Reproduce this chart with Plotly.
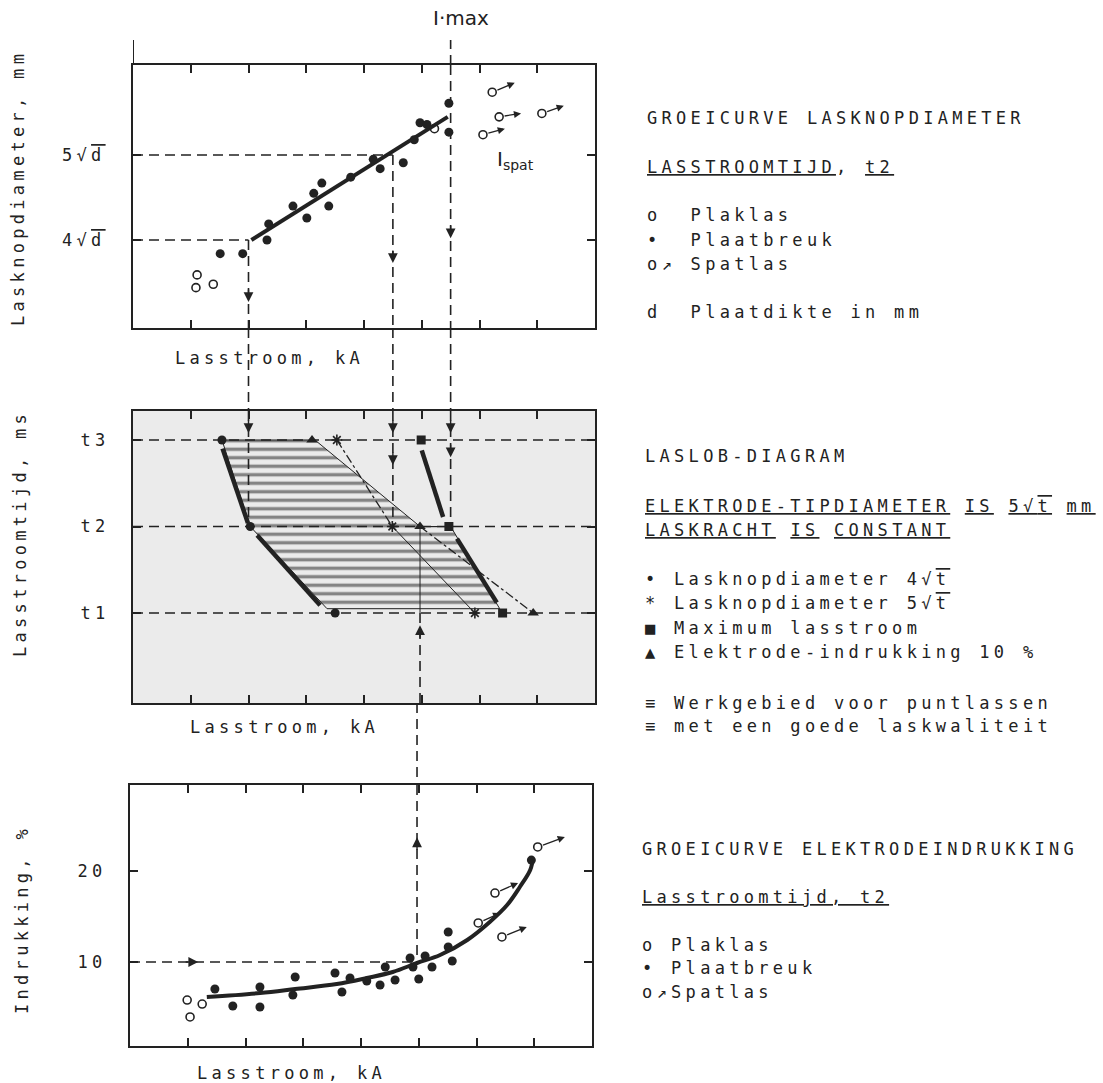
import plotly.graph_objects as go

W, H = 1103, 1083
INK = '#222222'
FONT = 'DejaVu Sans Mono'
FS = 17
LS = 4.3

# ---------------- data: top panel (Lasknopdiameter vs Lasstroom) ----------------
top_break_x = [1.51, 1.90, 2.32, 2.35, 2.77, 3.01, 3.13, 3.27, 3.39, 3.77, 4.16, 4.28, 4.68, 4.87, 4.97, 5.09, 5.47, 5.47]
top_break_y = [3.84, 3.84, 4.00, 4.19, 4.40, 4.26, 4.55, 4.67, 4.40, 4.74, 4.95, 4.84, 4.91, 5.18, 5.38, 5.36, 5.61, 5.27]
top_plak_x = [1.11, 1.09, 1.39, 5.22]
top_plak_y = [3.59, 3.44, 3.48, 5.31]
top_spat_x = [6.22, 6.34, 6.06, 7.08]
top_spat_y = [5.74, 5.45, 5.24, 5.49]
top_spat_to_x = [6.61, 6.72, 6.44, 7.46]
top_spat_to_y = [5.85, 5.49, 5.31, 5.58]
top_fit_x = [2.05, 5.45]
top_fit_y = [4.00, 5.45]
top_yticks = [4, 5]
top_yticktext = ["4√<span style='text-decoration:overline'>d</span>",
                 "5√<span style='text-decoration:overline'>d</span>"]
I_4vd, I_5vd, I_max = 2.0, 4.5, 5.5

# ---------------- data: middle panel (laslob-diagram) ----------------
t_levels = [3, 2, 1]            # t3, t2, t1
mid_yticktext = ['t3', 't2', 't1']
mid_4vt = [1.54, 2.03, 3.50]     # Lasknopdiameter 4√t
mid_5vt = [3.53, 4.49, 5.92]     # Lasknopdiameter 5√t
mid_imax = [4.99, 5.47, 6.40]    # Maximum lasstroom
mid_ind10 = [3.10, 4.97, 6.93]   # Elektrode-indrukking 10 %
hatch_x = [1.54, 3.15, 4.97, 5.50, 6.35, 3.36, 2.03, 1.54]
hatch_y = [3.0, 3.0, 2.0, 2.0, 1.05, 1.05, 2.0, 3.0]
thick_segments = [  # (x0, y0, x1, y1)
    (1.55, 2.90, 1.99, 2.04),
    (2.15, 1.90, 3.24, 1.09),
    (5.00, 2.88, 5.37, 2.11),
    (5.61, 1.86, 6.30, 1.12),
]

# ---------------- data: bottom panel (Indrukking vs Lasstroom) ----------------
bot_plak_x = [0.99, 1.04, 1.25]
bot_plak_y = [5.82, 3.96, 5.38]
bot_break_x = [1.47, 1.78, 2.25, 2.25, 2.86, 2.82, 3.55, 3.67, 3.81, 4.10, 4.33, 4.59, 4.42,
               4.85, 4.90, 5.00, 5.11, 5.23, 5.51, 5.51, 5.58, 6.95]
bot_break_y = [7.03, 5.16, 7.25, 5.05, 8.35, 6.37, 8.79, 6.70, 8.24, 7.91, 7.47, 8.02, 9.45,
               10.44, 9.45, 8.13, 10.66, 9.45, 13.30, 11.65, 10.11, 21.2]
bot_spat_x = [6.03, 6.32, 6.44, 7.06]
bot_spat_y = [14.29, 17.58, 12.75, 22.64]
bot_spat_to_x = [6.41, 6.72, 6.87, 7.53]
bot_spat_to_y = [15.38, 18.68, 13.85, 23.74]
curve_x = [1.33, 2.25, 2.86, 3.58, 4.10, 4.55, 4.97, 5.37, 5.84, 6.23, 6.53, 6.75, 6.93, 6.98]
curve_y = [6.15, 6.59, 7.03, 7.58, 8.24, 8.90, 9.89, 10.77, 12.42, 14.40, 16.26, 18.24, 20.11, 21.43]
bot_yticks = [10, 20]
I_ind10 = 4.97
ind_ref = 10

x_ticks = [1, 2, 3, 4, 5, 6, 7]

# ---------------- layout geometry ----------------
DX_TM = [133 / W, 595 / W]
DX_B = [130 / W, 592 / W]
DY_T = [1 - 328 / H, 1 - 65 / H]
DY_M = [1 - 703 / H, 1 - 411 / H]
DY_B = [1 - 1046 / H, 1 - 785 / H]
XR = [0, 8]
YR_T = [2.965, 6.06]
YR_M = [-0.04, 3.335]
YR_B = [0.77, 29.45]


def ls(s, sp=LS):
    return f"<span style='letter-spacing:{sp}px'>{s}</span>"


fig = go.Figure()

# ---- top panel traces ----
fig.add_trace(go.Scatter(x=top_fit_x, y=top_fit_y, mode='lines',
                         line=dict(color=INK, width=4), xaxis='x', yaxis='y'))
fig.add_trace(go.Scatter(x=top_break_x, y=top_break_y, mode='markers',
                         marker=dict(symbol='circle', size=9, color=INK), xaxis='x', yaxis='y'))
fig.add_trace(go.Scatter(x=top_plak_x + top_spat_x, y=top_plak_y + top_spat_y, mode='markers',
                         marker=dict(symbol='circle-open', size=8, color=INK, line=dict(width=1.6)),
                         xaxis='x', yaxis='y'))

# ---- middle panel traces ----
fig.add_trace(go.Scatter(x=hatch_x, y=hatch_y, mode='lines', fill='toself',
                         fillcolor='rgba(0,0,0,0)',
                         fillpattern=dict(shape='-', size=8.5, solidity=0.4, fgcolor='#1e1e1e',
                                          bgcolor='rgba(0,0,0,0)'),
                         line=dict(color=INK, width=1), xaxis='x2', yaxis='y2'))
fig.add_trace(go.Scatter(x=mid_5vt[:2], y=t_levels[:2], mode='lines',
                         line=dict(color=INK, width=1.3, dash='dashdot'), xaxis='x2', yaxis='y2'))
fig.add_trace(go.Scatter(x=mid_5vt[1:], y=t_levels[1:], mode='lines',
                         line=dict(color=INK, width=1), xaxis='x2', yaxis='y2'))
fig.add_trace(go.Scatter(x=mid_ind10[1:], y=t_levels[1:], mode='lines',
                         line=dict(color=INK, width=1.3, dash='dashdot'), xaxis='x2', yaxis='y2'))
fig.add_trace(go.Scatter(x=[mid_ind10[1], mid_ind10[1]], y=[t_levels[1], t_levels[2]], mode='lines',
                         line=dict(color=INK, width=1), xaxis='x2', yaxis='y2'))
for (x0, y0, x1, y1) in thick_segments:
    fig.add_trace(go.Scatter(x=[x0, x1], y=[y0, y1], mode='lines',
                             line=dict(color=INK, width=4.5), xaxis='x2', yaxis='y2'))
fig.add_trace(go.Scatter(x=mid_4vt, y=t_levels, mode='markers',
                         marker=dict(symbol='circle', size=9, color=INK), xaxis='x2', yaxis='y2'))
fig.add_trace(go.Scatter(x=mid_5vt, y=t_levels, mode='markers',
                         marker=dict(symbol='asterisk-open', size=9, color=INK, line=dict(width=1.6, color=INK)),
                         xaxis='x2', yaxis='y2'))
fig.add_trace(go.Scatter(x=mid_imax, y=t_levels, mode='markers',
                         marker=dict(symbol='square', size=9, color=INK), xaxis='x2', yaxis='y2'))
fig.add_trace(go.Scatter(x=mid_ind10, y=t_levels, mode='markers',
                         marker=dict(symbol='triangle-up', size=10, color=INK), xaxis='x2', yaxis='y2'))

# ---- bottom panel traces ----
fig.add_trace(go.Scatter(x=curve_x, y=curve_y, mode='lines', line=dict(color=INK, width=4, shape='spline'),
                         xaxis='x3', yaxis='y3'))
fig.add_trace(go.Scatter(x=bot_break_x, y=bot_break_y, mode='markers',
                         marker=dict(symbol='circle', size=9, color=INK), xaxis='x3', yaxis='y3'))
fig.add_trace(go.Scatter(x=bot_plak_x + bot_spat_x, y=bot_plak_y + bot_spat_y, mode='markers',
                         marker=dict(symbol='circle-open', size=8, color=INK, line=dict(width=1.6)),
                         xaxis='x3', yaxis='y3'))

# ---------------- shapes: dashed construction lines ----------------
DASH = '10px,6px'
shapes = []


def seg(xref, yref, x0, y0, x1, y1, dash=DASH, width=1.6, layer='above'):
    shapes.append(dict(type='line', xref=xref, yref=yref, x0=x0, y0=y0, x1=x1, y1=y1,
                       line=dict(color=INK, width=width, dash=dash), layer=layer))


# middle panel gray background
shapes.append(dict(type='rect', xref='x2 domain', yref='y2 domain', x0=0, y0=0, x1=1, y1=1,
                   fillcolor='#ebebeb', line=dict(width=0), layer='below'))

# top panel
seg('x', 'y', XR[0], 4, I_4vd, 4)
seg('x', 'y', I_4vd, 4, I_4vd, YR_T[0])
seg('x', 'y', XR[0], 5, I_5vd, 5)
seg('x', 'y', I_5vd, 5, I_5vd, YR_T[0])
seg('x', 'y', I_max, YR_T[1], I_max, YR_T[0])
# above top panel
seg('x', 'paper', I_max, DY_T[1], I_max, 1 - 40 / H)
seg('x', 'paper', XR[0], DY_T[1], XR[0], 1 - 40 / H, dash='solid', width=2)
# gap top -> middle
for xv in (I_4vd, I_5vd, I_max):
    seg('x', 'paper', xv, DY_T[0], xv, DY_M[1])
# middle panel
for tv in t_levels:
    seg('x2', 'y2', XR[0], tv, XR[1], tv)
seg('x2', 'y2', I_4vd, YR_M[1], I_4vd, 2)
seg('x2', 'y2', I_5vd, YR_M[1], I_5vd, 2)
seg('x2', 'y2', I_max, YR_M[1], I_max, 2)
seg('x2', 'y2', I_ind10, 1, I_ind10, YR_M[0])
# gap middle -> bottom
seg('x3', 'paper', I_ind10, DY_M[0], I_ind10, DY_B[1])
# bottom panel
seg('x3', 'y3', I_ind10, YR_B[1], I_ind10, ind_ref)
seg('x3', 'y3', XR[0], ind_ref, I_ind10, ind_ref)

# ---------------- annotations ----------------
ann = []


def arrow(xref, yref, x, y, ax, ay):
    ann.append(dict(xref=xref, yref=yref, x=x, y=y, ax=ax, ay=ay, text='', showarrow=True,
                    arrowhead=2, arrowsize=1.4, arrowwidth=1.4, arrowcolor=INK))


arrow('x', 'y', I_4vd, 3.27, 0, -14)
arrow('x', 'y', I_5vd, 3.73, 0, -14)
arrow('x', 'y', I_max, 4.02, 0, -14)
arrow('x2', 'y2', I_4vd, 3.08, 0, -14)
arrow('x2', 'y2', I_5vd, 3.08, 0, -14)
arrow('x2', 'y2', I_5vd, 2.71, 0, -14)
arrow('x2', 'y2', I_max, 3.08, 0, -14)
arrow('x2', 'y2', I_max, 2.80, 0, -14)
arrow('x2', 'y2', I_ind10, 0.86, 0, 14)
arrow('x3', 'y3', I_ind10, 23.7, 0, 14)
arrow('x3', 'y3', 1.18, ind_ref, -14, 0)

for x0, y0, x1, y1 in zip(top_spat_x, top_spat_y, top_spat_to_x, top_spat_to_y):
    ann.append(dict(xref='x', yref='y', axref='x', ayref='y', x=x1, y=y1, ax=x0, ay=y0, text='',
                    showarrow=True, arrowhead=2, arrowsize=1.1, arrowwidth=1.3, arrowcolor=INK,
                    startstandoff=4))
for x0, y0, x1, y1 in zip(bot_spat_x, bot_spat_y, bot_spat_to_x, bot_spat_to_y):
    ann.append(dict(xref='x3', yref='y3', axref='x3', ayref='y3', x=x1, y=y1, ax=x0, ay=y0, text='',
                    showarrow=True, arrowhead=2, arrowsize=1.1, arrowwidth=1.3, arrowcolor=INK,
                    startstandoff=4))


def txt(px, py, s, anchor='left', size=FS, angle=0, sp=LS):
    ann.append(dict(xref='paper', yref='paper', x=(px - (2 if anchor == 'left' else 0)) / W,
                    y=1 - py / H, text=ls(s, sp),
                    showarrow=False, xanchor=anchor, yanchor='middle', textangle=angle,
                    font=dict(family=FONT, size=size, color=INK)))


# axis titles
txt(18, 188, 'Lasknopdiameter, mm', anchor='center', angle=-90)
txt(20, 534, 'Lasstroomtijd, ms', anchor='center', angle=-90)
txt(22, 920, 'Indrukking, %', anchor='center', angle=-90)
txt(175, 358, 'Lasstroom, kA')
txt(190, 727, 'Lasstroom, kA')
txt(197, 1073, 'Lasstroom, kA')

# handwritten labels
ann.append(dict(xref='paper', yref='paper', x=461 / W, y=1 - 18 / H, text='I·max', showarrow=False,
                xanchor='center', yanchor='middle', font=dict(family='DejaVu Sans', size=20, color=INK)))
ann.append(dict(xref='paper', yref='paper', x=515 / W, y=1 - 160 / H, text='I<sub>spat</sub>',
                showarrow=False, xanchor='center', yanchor='middle',
                font=dict(family='DejaVu Sans', size=20, color=INK)))

# right-hand texts
OL = "<span style='text-decoration:overline'>{}</span>"
txt(647, 118, 'GROEICURVE LASKNOPDIAMETER')
txt(647, 167, '<u>LASSTROOMTIJD</u>, <u>t2</u>')
txt(647, 215, 'o  Plaklas')
txt(647, 240, '•  Plaatbreuk')
txt(647, 264, 'o↗ Spatlas')
txt(647, 312, 'd  Plaatdikte in mm')

txt(645, 456, 'LASLOB-DIAGRAM')
txt(645, 506, '<u>ELEKTRODE-TIPDIAMETER</u> <u>IS</u> <u>5√' + OL.format('t') + '</u> <u>mm</u>')
txt(645, 530, '<u>LASKRACHT</u> <u>IS</u> <u>CONSTANT</u>')
txt(645, 579, '• Lasknopdiameter 4√' + OL.format('t'))
txt(645, 603, '* Lasknopdiameter 5√' + OL.format('t'))
txt(645, 628, '■ Maximum lasstroom')
txt(645, 652, '▲ Elektrode-indrukking 10 %')
txt(645, 703, '≡ Werkgebied voor puntlassen')
txt(645, 726, '≡ met een goede laskwaliteit')

txt(642, 849, 'GROEICURVE ELEKTRODEINDRUKKING')
txt(642, 897, '<u>Lasstroomtijd, t2</u>')
txt(642, 945, 'o Plaklas')
txt(642, 968, '• Plaatbreuk')
txt(642, 992, 'o↗Spatlas')

# ---------------- axes ----------------
axis_common = dict(showline=True, linecolor=INK, linewidth=2, mirror='ticks', ticks='inside',
                   ticklen=8, tickwidth=1.5, tickcolor=INK, showgrid=False, zeroline=False,
                   fixedrange=True)
tickfont = dict(family=FONT, size=FS, color=INK)

fig.update_layout(
    width=W, height=H, margin=dict(l=0, r=0, t=0, b=0),
    paper_bgcolor='white', plot_bgcolor='rgba(0,0,0,0)', showlegend=False,
    font=dict(family=FONT, size=FS, color=INK),
    xaxis=dict(domain=DX_TM, range=XR, anchor='y', tickvals=x_ticks, showticklabels=False, **axis_common),
    yaxis=dict(domain=DY_T, range=YR_T, anchor='x', tickvals=top_yticks,
               ticktext=[ls(t) for t in top_yticktext], tickfont=tickfont, ticklabelstandoff=22,
               **axis_common),
    xaxis2=dict(domain=DX_TM, range=XR, anchor='y2', tickvals=x_ticks, showticklabels=False, **axis_common),
    yaxis2=dict(domain=DY_M, range=YR_M, anchor='x2', tickvals=t_levels,
                ticktext=[ls(t) for t in mid_yticktext], tickfont=tickfont, ticklabelstandoff=18,
                **axis_common),
    xaxis3=dict(domain=DX_B, range=XR, anchor='y3', tickvals=x_ticks, showticklabels=False, **axis_common),
    yaxis3=dict(domain=DY_B, range=YR_B, anchor='x3', tickvals=bot_yticks,
                ticktext=[ls(str(t)) for t in bot_yticks], tickfont=tickfont, ticklabelstandoff=18,
                **axis_common),
    shapes=shapes, annotations=ann,
)

fig.write_html('out.html', config={'displayModeBar': False},
               post_script="document.body.style.margin='0px';")
